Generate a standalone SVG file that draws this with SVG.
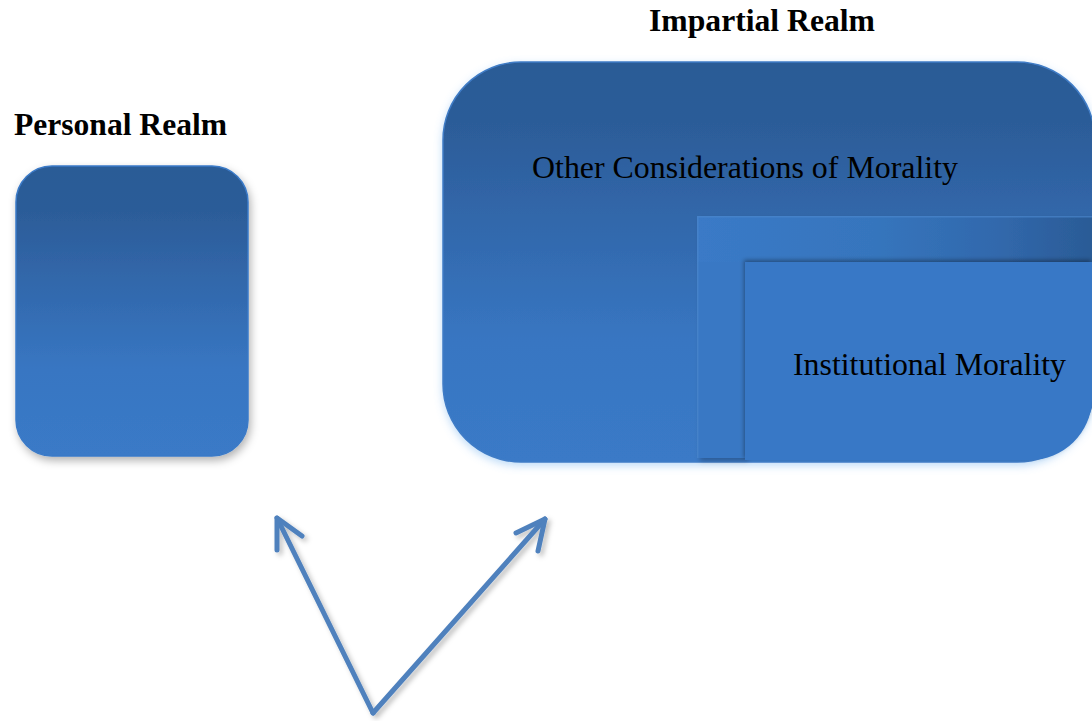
<svg xmlns="http://www.w3.org/2000/svg" width="1092" height="721" viewBox="0 0 1092 721">
<style>
.title{font-family:"Liberation Serif","Times New Roman",serif;font-weight:bold;fill:#000}
.lbl{font-family:"Liberation Serif","Times New Roman",serif;fill:#000}
.arrow{stroke:#4f81bd;stroke-width:5;fill:none;stroke-linecap:round;stroke-linejoin:round}
</style>
<defs>
<linearGradient id="gv" x1="0" y1="0" x2="0" y2="1">
<stop offset="0" stop-color="#2b5b96"/>
<stop offset="0.15" stop-color="#2c5c98"/>
<stop offset="0.7" stop-color="#3876c2"/>
<stop offset="1" stop-color="#3a7ac7"/>
</linearGradient>
<linearGradient id="gh" x1="0" y1="0" x2="1" y2="0">
<stop offset="0" stop-color="#3a7ac7"/>
<stop offset="0.45" stop-color="#3675bd"/>
<stop offset="0.75" stop-color="#3169ad"/>
<stop offset="1" stop-color="#2b5b96"/>
</linearGradient>
<filter id="sh" x="-10%" y="-10%" width="125%" height="125%">
<feDropShadow dx="2" dy="4" stdDeviation="4" flood-color="#000" flood-opacity="0.3"/>
</filter>
<filter id="glow" x="-10%" y="-10%" width="120%" height="125%">
<feDropShadow dx="0" dy="3" stdDeviation="4" flood-color="#6fb0ef" flood-opacity="0.45"/>
</filter>
<filter id="ish" x="-10%" y="-10%" width="120%" height="120%">
<feDropShadow dx="-1" dy="-2" stdDeviation="2" flood-color="#000" flood-opacity="0.35"/>
</filter>
<filter id="ash" x="-20%" y="-20%" width="140%" height="140%">
<feDropShadow dx="3" dy="3" stdDeviation="2.5" flood-color="#000" flood-opacity="0.25"/>
</filter>
</defs>
<rect width="1092" height="721" fill="#fff"/>
<g id="personal-realm">
<text class="title" x="14" y="135" font-size="31" textLength="213" lengthAdjust="spacingAndGlyphs">Personal Realm</text>
<rect x="16" y="166" width="232" height="290" rx="36" fill="url(#gv)" stroke="#3a7ac7" stroke-width="1.5" filter="url(#sh)"/>
</g>
<g id="impartial-realm">
<text class="title" x="649" y="31" font-size="31" textLength="226" lengthAdjust="spacingAndGlyphs">Impartial Realm</text>
<rect x="443" y="62" width="652" height="400" rx="78" fill="url(#gv)" stroke="#3f7cc6" stroke-width="1.5" filter="url(#glow)"/>
<text class="lbl" x="532" y="178" font-size="32" textLength="426" lengthAdjust="spacingAndGlyphs">Other Considerations of Morality</text>
</g>
<g id="institutional-morality">
<path d="M697 216 H1092 V262 H745 V458 H697 Z" fill="url(#gh)" filter="url(#ash)"/>
<path d="M697 262 H745 V458 H697 Z" fill="#3978c4"/>
<path d="M697 216 H1092 V217.5 H698.5 V458 H697 Z" fill="#4a86cc" opacity="0.7"/>
<path d="M745 262 H1092 V400 A62 62 0 0 1 1030 460 H745 Z" fill="#3978c6" filter="url(#ish)"/>
<text class="lbl" x="793" y="375" font-size="32" textLength="273" lengthAdjust="spacingAndGlyphs">Institutional Morality</text>
</g>
<g id="connectors" filter="url(#ash)">
<line class="arrow" x1="373" y1="713" x2="277" y2="518"/>
<polyline class="arrow" points="277,550 277,518 302,536"/>
<line class="arrow" x1="373" y1="713" x2="545" y2="519"/>
<polyline class="arrow" points="516,533 545,519 538,551"/>
</g>
</svg>
